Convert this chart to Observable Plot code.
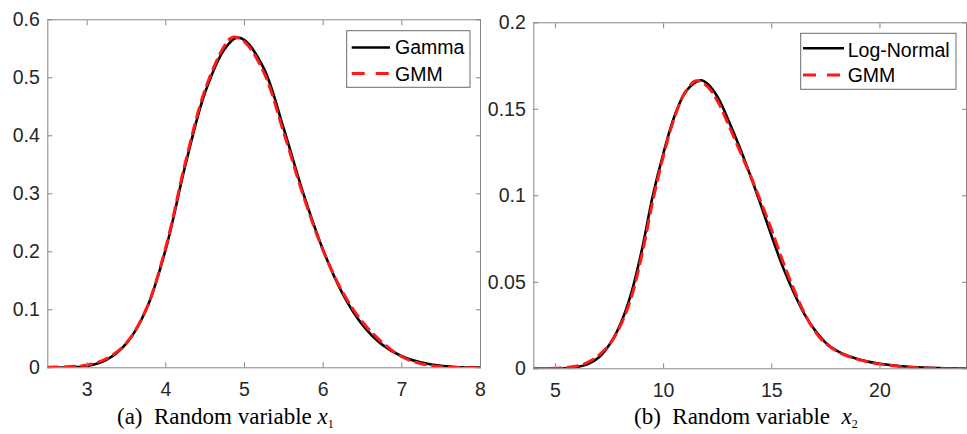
<!DOCTYPE html>
<html>
<head>
<meta charset="utf-8">
<script src="https://cdn.jsdelivr.net/npm/d3@7"></script>
<script src="https://cdn.jsdelivr.net/npm/@observablehq/plot@0.6"></script>
<style>
  body { margin: 0; background: #fff; }
  #wrap { position: relative; width: 967px; height: 434px; overflow: hidden; background: #fff; }
  .panel { position: absolute; top: 0; }
  .cap { position: absolute; top: 405px; font-family: "Liberation Serif", "Times New Roman", serif; font-size: 23px; line-height: 23px; white-space: pre; color: #000; }
  .cap sub { font-size: 12px; vertical-align: -4px; line-height: 0; }
</style>
</head>
<body>
<div id="wrap">
  <div id="pb" class="panel" style="left:480px"></div>
  <div id="pa" class="panel" style="left:0px"></div>
  <div class="cap" style="left:117px">(a)  Random variable <i>x</i><sub>1</sub></div>
  <div class="cap" style="left:634px">(b)  Random variable  <i>x</i><sub>2</sub></div>
</div>
<script>
// ---- Panel (a): Gamma vs GMM ----
const gammaX = [2.5, 2.75, 3.0, 3.25, 3.5, 3.75, 4.0, 4.25, 4.5, 4.75, 4.9, 5.0, 5.25, 5.5, 5.75, 6.0, 6.25, 6.5, 6.75, 7.0, 7.25, 7.5, 7.75, 8.0];
const gammaY = [0.000, 0.001, 0.003, 0.014, 0.042, 0.100, 0.205, 0.350, 0.475, 0.550, 0.569, 0.565, 0.515, 0.412, 0.300, 0.203, 0.127, 0.074, 0.040, 0.020, 0.009, 0.0035, 0.001, 0.0003];
const gmmAX = [2.5, 2.75, 3.0, 3.25, 3.5, 3.75, 4.0, 4.25, 4.5, 4.75, 4.85, 5.0, 5.25, 5.5, 5.75, 6.0, 6.25, 6.5, 6.75, 7.0, 7.25, 7.5, 7.75, 8.0];
const gmmAY = [0.001, 0.002, 0.005, 0.016, 0.043, 0.101, 0.208, 0.355, 0.480, 0.556, 0.570, 0.562, 0.508, 0.405, 0.296, 0.202, 0.130, 0.079, 0.044, 0.019, 0.007, 0.002, 0.0005, 0.000];
const xTicksA = [3, 4, 5, 6, 7, 8];
const yTicksA = [0, 0.1, 0.2, 0.3, 0.4, 0.5, 0.6];
const legendA = ["Gamma", "GMM"];

// ---- Panel (b): Log-Normal vs GMM ----
const lognX = [4, 5, 5.5, 6, 6.5, 7, 7.5, 8, 8.5, 9, 9.5, 10, 10.5, 11, 11.5, 11.75, 12, 12.5, 13, 13.5, 14, 14.5, 15, 15.5, 16, 16.5, 17, 17.5, 18, 18.5, 19, 19.5, 20, 21, 22, 23, 24];
const lognY = [0.0000, 0.0001, 0.0003, 0.0010, 0.0027, 0.0065, 0.0140, 0.0258, 0.0435, 0.0690, 0.1000, 0.1250, 0.1460, 0.1597, 0.1658, 0.1668, 0.1650, 0.1570, 0.1435, 0.1285, 0.1120, 0.0945, 0.0765, 0.0592, 0.0445, 0.0318, 0.0222, 0.0150, 0.0105, 0.0075, 0.0055, 0.0040, 0.0029, 0.0015, 0.0007, 0.0003, 0.0001];
const gmmBX = [4, 5, 5.5, 6, 6.5, 7, 7.5, 8, 8.5, 9, 9.5, 10, 10.5, 11, 11.5, 12, 12.5, 13, 13.5, 14, 14.5, 15, 15.5, 16, 16.5, 17, 17.5, 18, 18.5, 19, 19.5, 20, 21, 22, 23, 24];
const gmmBY = [0.0000, 0.0003, 0.0008, 0.0016, 0.0038, 0.0078, 0.0142, 0.0248, 0.0410, 0.0660, 0.0970, 0.1235, 0.1450, 0.1600, 0.1665, 0.1635, 0.1545, 0.1410, 0.1265, 0.1120, 0.0965, 0.0800, 0.0625, 0.0465, 0.0325, 0.0215, 0.0145, 0.0102, 0.0074, 0.0053, 0.0038, 0.0027, 0.0012, 0.0005, 0.0001, 0.0000];
const xTicksB = [5, 10, 15, 20];
const yTicksB = [0, 0.05, 0.1, 0.15, 0.2];
const legendB = ["Log-Normal", "GMM"];

const toRows = (xs, ys) => xs.map((x, i) => ({x, y: ys[i]}));
const axisColor = "#858585";
const textColor = "#262626";
const fontFam = "'Liberation Sans', Arial, Helvetica, sans-serif";

function makePanel(o) {
  const tick = 5;
  return Plot.plot({
    width: o.width, height: o.height,
    marginLeft: o.ml, marginRight: o.mr, marginTop: o.mt, marginBottom: o.mb,
    style: {fontFamily: fontFam, fontSize: "19.5px", color: textColor, background: "transparent", overflow: "visible"},
    x: {domain: o.xDomain, axis: null},
    y: {domain: o.yDomain, axis: null},
    marks: [
      Plot.line(o.d1, {x: "x", y: "y", stroke: "black", strokeWidth: 2.6, curve: "catmull-rom", clip: true}),
      Plot.line(o.d2, {x: "x", y: "y", stroke: "#ff1a1a", strokeWidth: 3, strokeDasharray: "10,7", curve: "catmull-rom", clip: true}),
      Plot.frame({stroke: axisColor, strokeWidth: 1}),
      Plot.axisX(o.xTicks, {anchor: "bottom", tickSize: tick, dy: -tick, fill: "none", stroke: axisColor, label: null}),
      Plot.axisX(o.xTicks, {anchor: "top", tickSize: tick, dy: tick, fill: "none", stroke: axisColor, label: null}),
      Plot.axisY(o.yTicks, {anchor: "left", tickSize: tick, dx: tick, fill: "none", stroke: axisColor, label: null}),
      Plot.axisY(o.yTicks, {anchor: "right", tickSize: tick, dx: -tick, fill: "none", stroke: axisColor, label: null}),
      Plot.axisX(o.xTicks, {anchor: "bottom", tickSize: 0, tickPadding: 14, fill: textColor, label: null, tickFormat: d => String(d)}),
      Plot.axisY(o.yTicks, {anchor: "left", tickSize: 0, tickPadding: 8, fill: textColor, label: null, tickFormat: d => String(d)})
    ]
  });
}

function addLegend(svg, box, names) {
  const g = d3.select(svg).append("g").attr("text-anchor", "start");
  g.append("rect").attr("x", box.x0).attr("y", box.y0).attr("width", box.x1 - box.x0).attr("height", box.y1 - box.y0)
    .attr("fill", "white").attr("stroke", "#6a6a6a").attr("stroke-width", 1);
  g.append("line").attr("x1", box.lx0).attr("x2", box.lx1).attr("y1", box.ly[0]).attr("y2", box.ly[0])
    .attr("stroke", "black").attr("stroke-width", 2.6);
  g.append("line").attr("x1", box.lx0).attr("x2", box.lx1).attr("y1", box.ly[1]).attr("y2", box.ly[1])
    .attr("stroke", "#ff1a1a").attr("stroke-width", 3).attr("stroke-dasharray", "13,11");
  names.forEach((n, i) => {
    g.append("text").attr("x", box.tx).attr("y", box.ty[i]).text(n)
      .attr("text-anchor", "start")
      .attr("fill", "#000").attr("font-family", fontFam).attr("font-size", "19.5px");
  });
}

const svgA = makePanel({
  width: 490, height: 390, ml: 47.3, mr: 10, mt: 19.3, mb: 22.7,
  xDomain: [2.5, 8], yDomain: [0, 0.6], xTicks: xTicksA, yTicks: yTicksA,
  d1: toRows(gammaX, gammaY), d2: toRows(gmmAX, gmmAY)
});
document.getElementById("pa").appendChild(svgA);
addLegend(svgA, {x0: 346.7, x1: 470, y0: 30.7, y1: 87.3, lx0: 351.7, lx1: 390, ly: [47.5, 73.5], tx: 395, ty: [54, 80.7]}, legendA);

const svgB = makePanel({
  width: 487, height: 391, ml: 53.3, mr: 1, mt: 22.3, mb: 22.7,
  xDomain: [4, 24], yDomain: [0, 0.2], xTicks: xTicksB, yTicks: yTicksB,
  d1: toRows(lognX, lognY), d2: toRows(gmmBX, gmmBY)
});
document.getElementById("pb").appendChild(svgB);
addLegend(svgB, {x0: 320.7, x1: 476, y0: 33.3, y1: 89.3, lx0: 323, lx1: 364, ly: [48.3, 75], tx: 367.7, ty: [56.7, 82.3]}, legendB);
</script>
</body>
</html>
